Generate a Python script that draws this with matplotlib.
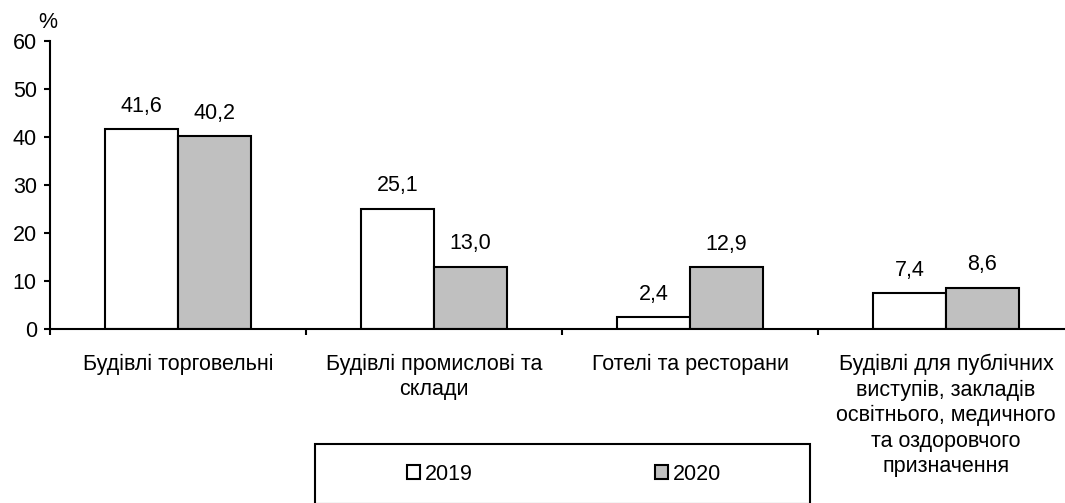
import matplotlib
matplotlib.use("Agg")
import matplotlib.pyplot as plt
from matplotlib.patches import Patch, Rectangle
import numpy as np

plt.rcParams['font.family'] = ['Liberation Sans', 'DejaVu Sans']
plt.rcParams['font.size'] = 15.5

categories = [
    "Будівлі торговельні",
    "Будівлі промислові та\nсклади",
    "Готелі та ресторани",
    "Будівлі для публічних\nвиступів, закладів\nосвітнього, медичного\nта оздоровчого\nпризначення",
]
years = ["2019", "2020"]
values_2019 = [41.6, 25.1, 2.4, 7.4]
values_2020 = [40.2, 13.0, 12.9, 8.6]

W, H = 1065, 503
fig = plt.figure(figsize=(W / 100, H / 100), dpi=100)
ax = fig.add_axes([50 / W, (H - 329) / H, 1 - 50 / W, 288 / H])

x = np.arange(len(categories))
bw = 0.285
b1 = ax.bar(x - bw / 2, values_2019, bw, color="white", edgecolor="black", linewidth=1.5)
b2 = ax.bar(x + bw / 2, values_2020, bw, color="#c0c0c0", edgecolor="black", linewidth=1.5)

for bars, vals in ((b1, values_2019), (b2, values_2020)):
    for rect, v in zip(bars, vals):
        ax.annotate(f"{v:.1f}".replace(".", ","),
                    (rect.get_x() + rect.get_width() / 2, rect.get_height()),
                    xytext=(0, 9), textcoords="offset points",
                    ha="center", va="bottom")

ax.set_xlim(-0.5, (W - 178) / 256)
ax.set_ylim(0, 60)
ax.set_yticks(range(0, 61, 10))
ax.set_xticks([-0.5, 0.5, 1.5, 2.5])
ax.set_xticklabels([])
ax.set_xticks(x, minor=True)
ax.set_xticklabels(categories, minor=True, linespacing=1.27)
ax.tick_params(axis="x", which="minor", length=0, pad=18)
ax.tick_params(axis="both", which="major", direction="out", length=4.5, width=1.5)
ax.tick_params(axis="y", pad=5)

for s in ("top", "right"):
    ax.spines[s].set_visible(False)
for s in ("left", "bottom"):
    ax.spines[s].set_linewidth(1.5)

fig.text(48 / W, 1 - 22 / H, "%", ha="center", va="center")

fig.patches.append(Rectangle((315 / W, 1 - 504 / H), 495 / W, 60 / H,
                             transform=fig.transFigure, fill=False,
                             edgecolor="black", linewidth=1.5))
handles = [Patch(facecolor="white", edgecolor="black", linewidth=1.5),
           Patch(facecolor="#c0c0c0", edgecolor="black", linewidth=1.5)]
fig.legend(handles, years, loc="center", bbox_to_anchor=(564 / W, 1 - 474 / H),
           ncol=2, frameon=False, handlelength=0.6, handleheight=0.6,
           handletextpad=0.2, columnspacing=8.5)

fig.savefig("out.png", dpi=100)
